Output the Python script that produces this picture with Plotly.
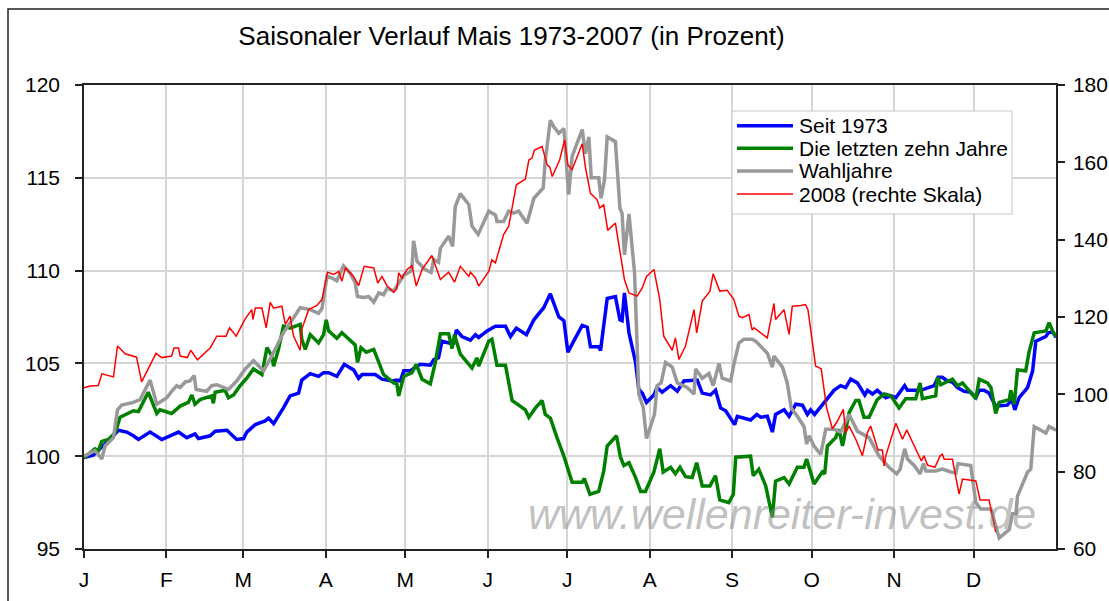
import plotly.graph_objects as go
import pandas as pd

# ---------------- data (day offset from 1 Jan, value) ----------------
MONTH_STARTS = ["2008-01-01", "2008-02-01", "2008-03-01", "2008-04-01", "2008-05-01", "2008-06-01",
                "2008-07-01", "2008-08-01", "2008-09-01", "2008-10-01", "2008-11-01", "2008-12-01"]
MONTH_LABELS = ["J", "F", "M", "A", "M", "J", "J", "A", "S", "O", "N", "D"]

SEIT_1973 = [(0,99.93),(3.5,100.05),(6.0,100.4),(9.8,100.9),(12.9,101.4),(16.1,101.3),(18.6,101.1),(20.5,100.9),
    (24.9,101.3),(29.3,100.9),(35.6,101.3),(38.7,101.0),(41.8,101.2),(43.1,100.95),(47.5,101.1),(49.4,101.35),
    (53.8,101.4),(57.5,100.9),(60.1,100.95),(61.3,101.3),(64.5,101.7),(68.2,101.9),(69.5,102.05),(71.4,101.75),
    (75.1,102.6),(77.6,103.25),(80.8,103.4),(82.0,104.1),(85.2,104.45),(88.3,104.3),(90.2,104.5),(92.1,104.5),
    (95.2,104.3),(98.0,104.95),(101.5,104.65),(103.4,104.2),(104.7,104.4),(109.7,104.4),(112.2,104.15),(116.0,104.05),
    (117.8,104.1),(119.1,104.05),(120.4,104.6),(122.9,104.6),(126.6,104.95),(130.4,104.9),(131.7,105.2),(133.5,105.3),
    (134.8,106.2),(137.3,106.1),(139.2,106.1),(140.2,106.8),(142.3,106.45),(145.5,106.25),(147.4,106.55),(148.6,106.4),
    (151.8,106.75),(154.9,107.0),(158.7,107.0),(160.6,106.45),(162.8,106.9),(166.6,106.55),(169.4,107.35),(173.1,108.0),
    (175.6,108.75),(178.8,107.5),(180.7,107.3),(182.2,105.6),(184.4,106.2),(187.6,107.05),(189.5,106.95),(190.7,105.9),
    (193.8,105.9),(194.5,105.7),(197.0,108.5),(200.1,108.6),(201.8,107.35),(202.6,107.3),(203.5,108.8),(205.2,106.65),
    (207.7,105.05),(208.9,103.6),(210.2,103.4),(211.8,102.9),(214.6,103.3),(215.8,103.7),(217.7,103.45),(220.9,103.8),
    (223.4,103.5),(225.9,104.05),(230.9,104.1),(232.8,103.4),(235.9,103.3),(237.8,103.55),(239.7,102.6),(241.6,102.45),
    (245.0,101.7),(246.0,102.15),(251.0,101.95),(253.3,102.25),(254.8,102.1),(257.3,102.15),(259.2,101.3),(260.4,102.25),
    (263.6,102.5),(265.5,102.15),(268.0,102.8),(270.5,102.75),(272.4,102.25),(273.6,102.5),(275.1,102.25),(278.6,102.9),
    (282.4,103.55),(284.9,103.8),(286.8,103.7),(288.7,104.15),(291.2,103.95),(294.0,103.3),(295.0,103.55),(296.9,103.35),
    (298.7,103.55),(301.9,103.15),(303.8,103.25),(305.7,103.15),(309.0,103.8),(310.1,103.55),(315.1,103.55),(320.1,103.8),
    (321.6,104.25),(323.2,104.25),(325.1,104.05),(327.0,104.0),(328.9,103.7),(331.4,103.5),(333.9,103.45),(335.8,103.15),
    (337.1,103.55),(338.9,103.55),(340.8,103.4),(343.3,102.7),(347.7,102.75),(349.4,103.05),(350.5,102.5),(352.1,103.15),
    (355.3,103.7),(357.2,104.6),(358.4,106.2),(362.2,106.45),(363.1,106.65),(364.7,106.7),(366.0,106.4)]

ZEHN_JAHRE = [(0,99.9),(4.1,100.4),(5.4,100.3),(6.7,100.8),(9.2,100.9),(11.7,101.25),(13.6,102.1),(16.1,102.3),
    (18.6,102.45),(20.5,102.4),(24.2,103.45),(27.4,102.3),(28.6,102.5),(33.0,102.3),(36.2,102.7),(39.3,102.9),
    (40.6,103.3),(41.8,102.8),(43.7,103.05),(48.1,103.25),(48.7,102.85),(49.4,103.45),(53.1,103.55),(54.4,103.15),
    (56.3,103.3),(58.8,103.8),(61.3,104.2),(63.8,104.7),(67.0,104.4),(68.9,105.85),(70.7,105.4),(71.4,104.85),
    (73.2,105.75),(75.1,107.0),(77.6,106.9),(81.4,107.1),(82.0,106.3),(83.3,105.75),(85.2,106.55),(88.3,106.1),
    (90.2,106.55),(91.2,107.35),(92.1,106.75),(95.2,106.35),(97.1,106.65),(102.1,106.0),(103.0,105.05),(104.3,105.85),
    (106.3,105.6),(109.1,105.75),(112.8,104.4),(116.6,103.95),(117.8,103.9),(118.5,103.25),(120.4,104.3),(123.5,104.5),
    (125.1,104.95),(127.3,104.15),(130.4,103.9),(132.3,105.05),(134.2,106.6),(137.3,106.6),(138.6,105.8),(139.5,106.55),
    (141.7,105.5),(146.1,104.75),(148.0,105.3),(148.6,104.85),(152.4,106.2),(153.6,106.3),(155.5,104.9),(158.7,104.9),
    (161.2,103.0),(166.2,102.5),(167.5,102.1),(170.0,102.6),(172.5,103.0),(173.7,102.25),(175.6,102.05),(178.1,101.0),
    (180.7,100.0),(183.8,98.6),(187.6,98.6),(188.4,98.8),(190.5,97.95),(193.8,98.1),(195.7,99.2),(197.0,100.55),
    (200.5,101.1),(202.0,99.95),(203.3,99.5),(205.2,99.65),(207.7,98.85),(209.6,98.1),(211.4,98.1),(214.6,99.15),
    (216.8,100.4),(218.1,99.15),(220.9,99.4),(222.7,99.05),(224.4,99.4),(226.5,98.9),(229.0,98.85),(230.7,99.65),
    (232.8,98.4),(235.7,98.4),(237.8,98.95),(239.4,97.65),(242.8,97.5),(244.5,97.95),(245.4,99.95),(251.0,100.0),
    (252.0,98.95),(254.1,99.3),(256.7,98.4),(259.2,96.7),(260.4,98.65),(263.6,98.85),(265.5,98.5),(268.6,99.4),
    (271.1,99.4),(272.1,99.85),(274.9,98.5),(278.0,99.15),(278.9,99.05),(279.9,100.55),(281.8,100.8),(283.0,101.0),
    (284.3,101.45),(285.6,100.55),(288.1,102.35),(290.6,103.0),(291.8,103.0),(293.7,102.1),(295.6,102.1),(298.7,103.05),
    (301.3,103.35),(303.8,103.25),(306.9,102.6),(309.4,103.1),(313.2,103.1),(314.8,103.95),(315.7,103.1),(320.7,103.25),
    (321.4,104.25),(322.6,103.85),(327.0,104.15),(328.9,103.8),(330.8,103.95),(333.3,103.5),(335.8,103.1),(337.1,104.15),
    (340.2,103.95),(341.5,103.7),(343.3,102.3),(344.6,102.9),(348.4,103.05),(349.0,103.55),(350.3,102.8),(351.5,104.65),
    (354.6,104.6),(355.9,105.65),(357.8,106.65),(362.2,106.75),(363.4,107.2),(364.7,106.75),(366.0,106.45)]

WAHLJAHRE = [(0,100.0),(4.1,100.3),(6.7,99.85),(7.9,100.55),(11.1,101.0),(12.6,102.5),(14.2,102.75),(18.6,102.9),
    (21.1,103.05),(24.9,104.1),(27.4,102.8),(31.2,103.15),(33.0,103.5),(34.9,103.8),(36.2,103.7),(38.1,104.0),
    (39.9,104.05),(41.5,104.35),(42.2,103.6),(46.2,103.5),(48.1,103.8),(50.0,103.85),(54.4,103.6),(57.5,104.05),
    (60.7,104.7),(63.8,105.15),(67.6,104.6),(70.7,105.4),(75.1,106.65),(78.3,107.3),(81.4,108.0),(85.2,107.9),
    (88.3,107.7),(89.6,107.95),(91.5,109.7),(93.3,109.6),(95.2,109.45),(97.7,110.25),(100.3,109.85),(102.1,109.35),
    (103.0,108.6),(105.3,108.55),(107.2,108.6),(109.1,108.3),(111.0,108.8),(112.8,108.7),(114.1,109.05),(116.6,108.9),
    (118.5,109.35),(120.4,109.75),(122.9,109.95),(123.5,110.15),(124.1,111.6),(125.4,110.5),(128.5,110.05),(130.7,109.9),
    (131.7,110.6),(133.5,110.45),(134.2,111.2),(137.3,111.85),(138.8,111.3),(139.8,113.45),(141.7,114.15),(144.9,113.55),
    (146.1,112.4),(148.4,111.95),(152.4,113.2),(154.9,113.0),(155.5,112.65),(158.0,112.65),(159.9,113.2),(161.8,113.1),
    (163.7,113.2),(166.8,112.55),(169.4,113.9),(172.9,114.45),(173.7,115.95),(175.6,118.1),(176.9,117.75),(178.8,117.4),
    (180.7,117.65),(182.5,114.1),(183.8,116.15),(187.6,117.6),(188.8,116.3),(190.1,117.2),(191.0,115.0),(193.8,115.0),
    (194.7,113.9),(196.0,114.9),(197.0,117.2),(200.1,116.95),(201.8,113.35),(202.6,113.1),(203.5,110.85),(205.2,113.05),
    (207.3,109.9),(208.5,104.85),(208.9,103.35),(210.6,102.6),(211.8,100.95),(214.8,102.25),(215.8,103.8),(217.3,103.95),
    (219.0,105.05),(221.5,104.8),(223.4,103.95),(227.1,103.7),(229.7,103.35),(230.3,104.7),(232.8,104.2),(235.3,104.45),
    (236.9,103.8),(239.1,105.0),(240.3,104.2),(243.5,104.05),(244.7,104.95),(246.6,106.1),(248.5,106.3),(251.6,106.3),
    (252.9,106.2),(257.3,105.55),(259.2,104.8),(259.8,105.4),(263.0,104.8),(264.8,103.95),(266.3,102.6),(268.6,102.15),
    (271.1,101.6),(272.1,100.65),(273.0,101.1),(274.9,100.55),(277.4,100.1),(279.3,101.45),(282.4,101.45),(284.9,101.3),
    (288.1,102.25),(291.2,101.35),(295.6,101.0),(299.4,100.0),(303.1,99.4),(306.0,99.05),(307.3,99.3),(309.0,100.4),
    (310.1,99.85),(312.6,99.5),(314.8,99.05),(316.1,99.6),(317.0,99.2),(320.7,99.2),(323.2,99.3),(326.4,99.15),
    (328.3,99.1),(329.1,99.6),(333.9,99.5),(335.8,97.5),(337.7,97.15),(341.5,97.15),(344.6,95.6),(348.4,96.05),
    (349.6,96.9),(350.9,96.9),(351.5,97.85),(355.3,99.15),(356.5,99.3),(357.8,101.6),(362.2,101.25),(363.4,101.6),
    (366.0,101.4)]

JAHR_2008 = [(0,101.7),(2.3,102.15),(5.4,102.3),(6.7,105.3),(11.1,104.5),(12.6,112.5),(15.5,110.5),(19.8,109.6),
    (21.7,103.2),(27.1,110.6),(29.3,109.5),(33.0,109.9),(33.9,112.0),(35.6,112.0),(36.2,109.9),(38.9,109.5),
    (40.2,111.4),(42.7,108.9),(47.5,112.0),(50.0,115.05),(53.5,115.05),(54.8,117.2),(57.3,115.05),(60.7,119.5),
    (63.2,121.9),(63.6,119.35),(64.5,122.3),(67.0,122.3),(68.6,117.2),(70.1,123.8),(71.4,122.3),(74.5,122.8),
    (75.8,118.1),(77.6,120.2),(78.9,115.05),(81.4,111.4),(82.0,116.8),(84.6,121.9),(87.7,123.0),(89.6,124.5),
    (91.7,131.6),(94.0,131.0),(95.9,131.8),(97.1,129.25),(98.4,132.7),(101.5,130.5),(103.4,128.1),(105.5,133.1),
    (109.1,132.7),(110.6,128.8),(112.2,130.5),(114.1,128.1),(116.6,126.4),(117.8,127.3),(118.5,131.4),(119.7,130.1),
    (121.6,132.3),(123.5,133.3),(125.1,128.0),(127.3,132.3),(131.0,135.9),(134.2,129.7),(137.3,131.6),(139.5,129.0),
    (141.7,133.1),(143.6,131.6),(144.9,130.5),(145.5,131.6),(147.4,130.1),(148.6,128.0),(152.4,131.8),(153.6,134.8),
    (154.9,134.0),(158.0,141.3),(159.9,143.4),(162.8,154.2),(166.2,155.65),(167.5,160.6),(168.7,161.1),(169.6,163.2),
    (172.5,164.1),(174.4,159.35),(175.4,158.75),(176.3,156.35),(179.1,160.6),(181.0,165.8),(182.2,159.35),(183.8,158.1),
    (187.6,164.8),(188.8,158.75),(190.7,152.0),(193.2,150.3),(194.2,148.2),(195.7,149.0),(197.2,142.4),(200.1,144.3),
    (201.8,137.4),(203.5,129.7),(205.2,126.2),(208.3,125.4),(210.2,127.5),(211.8,130.5),(214.6,132.3),(216.8,124.5),
    (218.3,115.05),(221.5,111.4),(222.7,114.6),(224.0,109.0),(226.5,112.5),(229.7,121.9),(230.7,115.9),(232.8,124.1),
    (235.7,126.7),(236.9,131.2),(239.4,126.7),(242.2,126.9),(244.7,124.5),(246.6,120.2),(247.9,119.8),(250.4,120.6),
    (251.6,116.6),(252.3,117.2),(257.3,114.6),(259.8,123.5),(260.4,119.35),(263.6,121.9),(265.5,115.5),(266.7,122.8),
    (269.9,123.0),(271.7,123.2),(272.6,121.9),(275.5,107.3),(277.6,106.6),(279.6,96.6),(281.8,91.1),(283.7,93.1),
    (285.9,96.1),(286.8,90.1),(288.1,91.8),(290.6,88.4),(293.1,84.1),(295.0,90.1),(296.2,91.8),(299.0,85.6),
    (300.6,85.6),(301.3,81.5),(301.9,84.1),(305.7,92.5),(308.2,88.4),(309.8,90.8),(312.6,86.7),(315.3,82.8),
    (316.3,84.1),(317.6,81.7),(320.4,81.1),(322.4,84.1),(323.2,84.5),(323.9,83.2),(327.0,83.2),(329.5,74.2),
    (330.8,78.1),(334.5,77.6),(335.8,77.6),(337.4,72.7),(340.8,72.7),(343.3,64.4)]

SERIES = [
    ("Seit 1973", SEIT_1973, "#0000ff", 3.5, "y"),
    ("Die letzten zehn Jahre", ZEHN_JAHRE, "#008000", 3.5, "y"),
    ("Wahljahre", WAHLJAHRE, "#999999", 3.5, "y"),
    ("2008 (rechte Skala)", JAHR_2008, "#ff0000", 1.5, "y2"),
]

BASE = pd.Timestamp("2008-01-01")
FONT = "Liberation Sans, Arial, sans-serif"

fig = go.Figure()
for name, pts, color, width, yax in SERIES:
    xs = [BASE + pd.Timedelta(days=d) for d, _ in pts]
    ys = [v for _, v in pts]
    fig.add_trace(go.Scatter(x=xs, y=ys, name=name, mode="lines", yaxis=yax,
                             line=dict(color=color, width=width), showlegend=False))

# geometry helpers (plot area in pixels)
L, R, T, B, W, H = 84, 53, 85, 52, 1109, 601
PW, PH = W - L - R, H - T - B
def px(x):
    return (x - L) / PW
def py(y):
    return (T + PH - y) / PH

shapes = []
# outer chart frame
shapes.append(dict(type="rect", xref="paper", yref="paper", x0=px(8), x1=px(1125), y0=py(630), y1=py(9),
                   line=dict(color="#222222", width=1.5), fillcolor="rgba(0,0,0,0)", layer="above"))
# legend box
shapes.append(dict(type="rect", xref="paper", yref="paper", x0=px(732), x1=px(1012), y0=py(214), y1=py(111),
                   line=dict(color="#c8c8c8", width=1), fillcolor="white", layer="above"))
annotations = []
leg_y = [125.7, 148.3, 171.0, 194.0]
for (name, pts, color, width, yax), yy in zip(SERIES, leg_y):
    shapes.append(dict(type="line", xref="paper", yref="paper", x0=px(737), x1=px(793), y0=py(yy), y1=py(yy),
                       line=dict(color=color, width=width), layer="above"))
    annotations.append(dict(text=name, xref="paper", yref="paper", x=px(797), y=py(yy), xanchor="left",
                            yanchor="middle", showarrow=False, font=dict(family=FONT, size=21, color="black")))

# watermark
annotations.append(dict(text="www.wellenreiter-invest.de", xref="paper", yref="paper", x=px(782), y=py(514),
                        xanchor="center", yanchor="middle", showarrow=False,
                        font=dict(family=FONT, size=43, color="rgba(140,140,140,0.55)", style="italic")))

axis_common = dict(showline=True, linecolor="#222222", linewidth=1.5, ticks="outside", ticklen=7,
                   tickcolor="#222222", tickwidth=1.5, tickfont=dict(family=FONT, size=21, color="black"),
                   zeroline=False, automargin=False)

fig.update_layout(
    width=W, height=H,
    margin=dict(l=L, r=R, t=T, b=B, autoexpand=False),
    paper_bgcolor="white", plot_bgcolor="white",
    font=dict(family=FONT, color="black"),
    title=dict(text="Saisonaler Verlauf Mais 1973-2007 (in Prozent)", xref="paper", x=px(511.5),
               xanchor="center", yref="container", y=1 - 36 / H, yanchor="middle", automargin=False,
               font=dict(family=FONT, size=26, color="black")),
    xaxis=dict(type="date", range=["2008-01-01", "2009-01-01"], tickvals=MONTH_STARTS, ticktext=MONTH_LABELS,
               showgrid=True, gridcolor="#d6d6d6", gridwidth=1.5, mirror=True, ticklabelstandoff=4,
               **axis_common),
    yaxis=dict(range=[95, 120], tick0=95, dtick=5, showgrid=True, gridcolor="#d6d6d6", gridwidth=1.5,
               ticklabelstandoff=11, **axis_common),
    yaxis2=dict(range=[60, 180], tick0=60, dtick=20, overlaying="y", side="right", showgrid=False,
                ticklabelstandoff=4, **axis_common),
    shapes=shapes,
    annotations=annotations,
    showlegend=False,
)

fig.write_html("out.html", config={"displayModeBar": False},
               post_script="document.body.style.margin='0';document.body.style.overflow='hidden';")
